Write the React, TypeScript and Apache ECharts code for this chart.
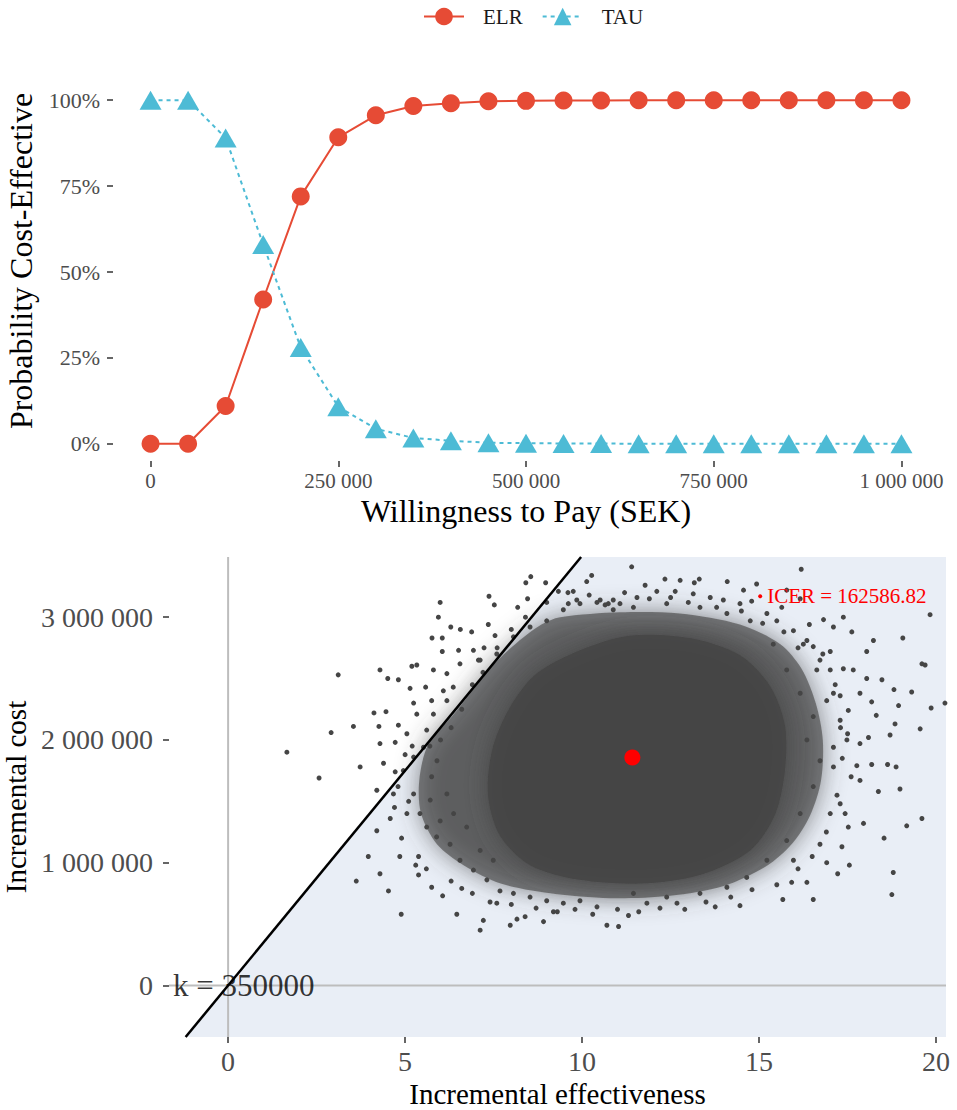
import React, { useEffect, useRef } from "react";
import * as echarts from "echarts";

// ---------- Top chart: CEAC ----------
const WTP = [0, 50000, 100000, 150000, 200000, 250000, 300000, 350000, 400000, 450000, 500000,
  550000, 600000, 650000, 700000, 750000, 800000, 850000, 900000, 950000, 1000000];
const ELR = [0, 0, 0.11, 0.42, 0.72, 0.892, 0.956, 0.983, 0.991, 0.997, 0.998,
  0.999, 0.999, 1, 1, 1, 1, 1, 1, 1, 1];
const TAU = [1, 1, 0.89, 0.58, 0.28, 0.108, 0.044, 0.017, 0.009, 0.003, 0.002,
  0.001, 0.001, 0, 0, 0, 0, 0, 0, 0, 0];
const WTP_TICKS = [0, 250000, 500000, 750000, 1000000];
const PROB_TICKS = [0, 0.25, 0.5, 0.75, 1];

// ---------- Bottom chart: CE plane ----------
const K = 350000;
const ICER = 162586.82;
const MEAN_EFFECT = 11.42;
const MEAN_COST = 1856742;
const ICER_LABEL_POS = [15.03, 3.17]; // effect, cost (millions)
const EFF_TICKS = [0, 5, 10, 15, 20];
const COST_TICKS = [0, 1000000, 2000000, 3000000];
const X_MIN = -1.67, X_MAX = 20.28, Y_MIN = -420000, Y_MAX = 3490000;

// simulated incremental (effect, cost in millions) samples, outer & mid region
const SAMPLES_LEFT = [
  [8.55,3.33],[8.41,3.28],[8.97,3.28],[7.37,3.17],[7.52,3.10],[5.99,3.12],[8.18,3.08],[8.46,3.15],[5.94,3.00],[6.29,2.92],
  [6.56,2.90],[6.88,2.88],[7.35,2.94],[5.76,2.83],[6.05,2.83],[6.05,2.72],[6.51,2.73],[6.93,2.73],[7.23,2.75],[7.07,2.65],
  [7.54,2.85],[4.29,2.57],[4.51,2.50],[4.81,2.49],[5.19,2.60],[5.33,2.61],[5.80,2.57],[6.18,2.54],[6.55,2.62],[3.11,2.53],
  [5.14,2.42],[5.58,2.43],[6.08,2.40],[6.36,2.43],[5.24,2.30],[5.75,2.32],[6.18,2.32],[4.12,2.22],[4.46,2.23],[4.81,2.12],
  [5.33,2.21],[5.80,2.21],[2.91,2.06],[3.54,2.11],[4.26,2.11],[4.29,1.97],[4.72,1.98],[5.05,2.05],[5.61,2.08],[1.66,1.90],
  [3.73,1.78],[4.39,1.81],[4.72,1.74],[5.24,1.86],[2.57,1.69],[4.20,1.59],[4.67,1.56],[5.05,1.40],[4.58,1.36],[4.20,1.26],
  [3.96,1.05],[4.29,0.91],[3.62,0.85],[4.53,0.77],[4.89,0.58],[5.38,1.05],[5.38,0.90],[5.75,0.80],[6.06,0.73],[6.46,0.58],
  [7.12,0.45],[6.60,0.79],[7.21,0.53],[7.59,0.67],[7.97,0.49],[8.16,0.54],[8.39,0.56],[8.91,0.52],[9.19,0.60],[10.70,0.49],
  [10.27,3.34],[10.13,3.29],[9.75,3.21],[9.61,3.11],[9.85,3.14],[9.33,3.21],[10.51,3.14],[10.74,3.11],
];
const SAMPLES_RIGHT = [
  [11.40,3.41],[16.19,3.39],[11.78,3.26],[12.34,3.31],[12.77,3.30],[13.17,3.28],[13.31,3.31],[14.10,3.29],[14.56,3.22],[14.93,3.27],
  [15.78,3.22],[14.79,3.13],[15.64,3.08],[16.16,3.15],[17.38,3.00],[16.82,2.98],[19.83,3.02],[16.42,2.94],[17.10,2.92],[17.62,2.88],
  [18.23,2.81],[19.06,2.83],[17.01,2.72],[18.04,2.72],[16.53,2.76],[17.66,2.57],[17.38,2.58],[19.60,2.62],[19.69,2.61],[18.04,2.50],
  [18.47,2.49],[18.81,2.41],[19.31,2.39],[20.25,2.30],[19.86,2.26],[17.29,2.36],[17.85,2.38],[18.18,2.31],[18.94,2.28],[18.31,2.20],
  [18.84,2.13],[19.55,2.09],[18.70,2.04],[17.85,1.97],[18.09,2.02],[17.76,1.79],[18.18,1.80],[18.63,1.80],[18.87,1.78],[18.98,1.60],
  [18.37,1.58],[17.85,1.67],[17.95,1.32],[19.17,1.30],[19.60,1.36],[18.53,1.20],[17.34,1.13],[18.79,0.92],[18.75,0.74],[17.55,0.98],
  [17.22,0.91],[16.53,0.70],[15.67,0.70],[16.35,0.84],[15.92,0.84],[16.91,1.00],[14.46,0.65],[13.76,0.64],[11.03,0.48],[11.31,0.57],
  [11.83,0.67],[12.68,0.67],[17.29,1.48],[17.52,1.29],[17.43,1.40],[17.10,1.94],[17.48,2.00],[17.29,2.16],[17.52,2.24],[17.10,2.38],
  [17.01,2.57],[16.72,2.65],[16.35,2.81],[15.97,2.89],[15.50,2.97],[15.22,3.03],[14.46,3.11],[13.99,3.14],[13.62,3.16],[13.14,3.19],
  [12.63,3.21],[12.11,3.21],[11.55,3.16],[11.07,3.11],[10.65,3.10],
];
const SAMPLES_MID = [
  [5.52,1.94],[5.90,1.83],[5.75,1.70],[6.18,1.56],[6.37,1.40],[5.99,1.34],[5.61,1.29],[5.89,1.21],[6.27,1.15],[6.55,1.02],
  [6.93,0.94],[7.31,0.86],[7.68,0.77],[8.06,0.75],[8.53,0.72],[9.00,0.69],[9.47,0.67],[9.94,0.69],[10.42,0.64],[6.74,1.29],
  [7.12,1.10],[7.49,1.02],[5.24,1.56],[5.42,1.40],[5.71,1.51],[7.12,2.65],[7.59,2.70],[8.06,2.84],[8.53,2.92],[9.00,2.97],
  [9.47,3.06],[9.94,3.11],[10.42,3.12],[10.88,3.14],
  [15.40,2.78],[15.78,2.57],[16.16,2.38],[16.53,2.19],[16.35,2.00],[16.72,1.83],[16.53,1.62],[16.16,1.40],[15.78,1.18],[15.22,1.02],
  [14.65,0.88],[14.09,0.80],[13.33,0.75],[12.39,0.72],[11.45,0.75],[16.91,2.32],[17.10,1.78],[17.01,1.40],[16.72,1.15],[15.97,1.02],
  [16.63,2.57],[16.25,2.78],[14.75,2.97],[14.09,3.03],[13.33,3.08],[12.39,3.11],[11.45,3.08],[10.88,3.06],
];
const SAMPLES_EDGE = [
  [4.9,1.2],[5.1,1.5],[4.95,1.75],[5.2,1.95],[4.85,1.05],[5.3,0.98],[5.6,0.95],[4.7,1.45],[4.8,1.62],[5.0,1.88],
  [6.3,0.85],[6.9,0.75],[7.4,0.68],[8.0,0.66],[8.7,0.63],[9.3,0.6],[9.8,0.62],[10.3,0.58],[11.0,0.62],[11.6,0.6],
  [12.2,0.63],[12.9,0.62],[13.5,0.68],[14.2,0.72],[14.8,0.78],[15.5,0.82],[16.1,0.95],[16.5,1.05],
  [16.9,1.25],[17.2,1.55],[17.35,1.85],[17.3,2.1],[17.15,2.45],[16.8,2.7],[17.6,1.7],[17.5,2.05],
  [9.0,3.12],[9.6,3.2],[10.2,3.18],[11.2,3.2],[11.9,3.15],[12.5,3.16],[13.0,3.12],[13.8,3.08],[14.5,3.05],[15.1,2.95],
  [15.7,2.88],[16.1,2.75],[6.6,2.25],[6.9,2.45],[7.2,2.55],[7.6,2.75],[8.0,2.9],[8.4,3.0],[6.3,2.1],[6.0,2.0],[5.7,1.95],
];
// outlines of the region where samples overlap completely (effect, cost in millions)
const DENSE_OUTER = [
  [9.38,3.0],[11.07,3.04],[12.77,3.03],[14.46,2.94],[15.6,2.78],[16.2,2.58],[16.6,2.30],[16.8,2.00],[16.75,1.67],[16.45,1.39],
  [15.95,1.16],[15.2,0.97],[14.0,0.81],[12.49,0.73],[10.79,0.71],[9.10,0.75],[7.7,0.83],[6.65,0.98],[5.9,1.15],[5.45,1.40],
  [5.4,1.67],[5.65,1.96],[6.35,2.20],[6.9,2.40],[7.45,2.60],[8.15,2.79],[8.85,2.94],
];
const DENSE_CORE = [
  [9.94,2.73],[11.36,2.85],[13.05,2.83],[14.46,2.69],[15.31,2.44],[15.73,2.12],[15.73,1.75],[15.45,1.39],[14.75,1.10],[13.33,0.90],
  [11.64,0.83],[9.94,0.86],[8.53,0.98],[7.68,1.22],[7.34,1.55],[7.46,1.92],[7.91,2.24],[8.67,2.53],
];

const FONT = '"Liberation Serif", "DejaVu Serif", serif';
const RED = "#E64B35";
const BLUE = "#4DBBD5";
const DOT = "#454545";

const spaced = (v: number) => String(Math.round(v)).replace(/\B(?=(\d{3})+(?!\d))/g, " ");
const toCost = (arr: number[][]) => arr.map((p) => [p[0], p[1] * 1e6]);

export default function App() {
  const ref = useRef<HTMLDivElement>(null);
  useEffect(() => {
    document.body.style.margin = "0";
    const chart = echarts.init(ref.current!, undefined, { renderer: "svg" });

    const polygonSeries = (poly: number[][], fill: string, opacity: number, z: number, blur: number) => ({
      type: "custom",
      xAxisIndex: 1,
      yAxisIndex: 1,
      silent: true,
      clip: true,
      z,
      data: [[0, 0]],
      renderItem: (_p: any, api: any) => ({
        type: "polygon",
        shape: { points: poly.map((pt) => api.coord(pt)), smooth: blur ? 0.3 : 0 },
        style: blur
          ? { fill, opacity, shadowBlur: blur, shadowColor: fill }
          : { fill, opacity },
      }),
    });

    const shade = [[Y_MIN / K, Y_MIN], [X_MAX, Y_MIN], [X_MAX, Y_MAX], [Y_MAX / K, Y_MAX]];
    const samples = toCost([...SAMPLES_LEFT, ...SAMPLES_RIGHT, ...SAMPLES_MID, ...SAMPLES_EDGE]);

    const axisTickStyle = { show: true, length: 6, lineStyle: { color: "#333", width: 1.5 } };

    chart.setOption({
      animation: false,
      textStyle: { fontFamily: FONT },
      legend: {
        data: ["ELR", "TAU"],
        top: 1,
        left: 418,
        itemWidth: 40,
        itemHeight: 22,
        itemGap: 19,
        textStyle: { fontFamily: FONT, fontSize: 21, color: "#1a1a1a", padding: [0, 0, 0, 14] },
      },
      grid: [
        { left: 113, top: 83, width: 826, height: 378, outerBoundsMode: "none", containLabel: false },
        { left: 169, top: 557, width: 777, height: 480, outerBoundsMode: "none", containLabel: false },
      ],
      xAxis: [
        {
          type: "value", gridIndex: 0, min: -50000, max: 1050000,
          name: "Willingness to Pay (SEK)", nameLocation: "middle", nameGap: 34,
          nameTextStyle: { fontFamily: FONT, fontSize: 32, color: "#000" },
          axisLine: { show: false, onZero: false },
          axisTick: { ...axisTickStyle, customValues: WTP_TICKS },
          axisLabel: { customValues: WTP_TICKS, formatter: (v: number) => spaced(v), fontFamily: FONT, fontSize: 21, color: "#4d4d4d", margin: 9 },
          splitLine: { show: false },
        },
        {
          type: "value", gridIndex: 1, min: X_MIN, max: X_MAX,
          name: "Incremental effectiveness", nameLocation: "middle", nameGap: 42,
          nameTextStyle: { fontFamily: FONT, fontSize: 29, color: "#000" },
          axisLine: { show: false, onZero: false },
          axisTick: { ...axisTickStyle, customValues: EFF_TICKS },
          axisLabel: { customValues: EFF_TICKS, formatter: (v: number) => String(v), fontFamily: FONT, fontSize: 28, color: "#4d4d4d", margin: 10 },
          splitLine: { show: false },
        },
      ],
      yAxis: [
        {
          type: "value", gridIndex: 0, min: -0.05, max: 1.05,
          name: "Probability Cost-Effective", nameLocation: "middle", nameGap: 76, nameRotate: 90,
          nameTextStyle: { fontFamily: FONT, fontSize: 32, color: "#000", padding: [0, 0, 0, 22] },
          axisLine: { show: false, onZero: false },
          axisTick: { ...axisTickStyle, customValues: PROB_TICKS },
          axisLabel: { customValues: PROB_TICKS, formatter: (v: number) => Math.round(v * 100) + "%", fontFamily: FONT, fontSize: 22, color: "#4d4d4d", margin: 13 },
          splitLine: { show: false },
        },
        {
          type: "value", gridIndex: 1, min: Y_MIN, max: Y_MAX,
          name: "Incremental cost", nameLocation: "middle", nameGap: 133, nameRotate: 90,
          nameTextStyle: { fontFamily: FONT, fontSize: 29, color: "#000" },
          axisLine: { show: false, onZero: false },
          axisTick: { ...axisTickStyle, customValues: COST_TICKS },
          axisLabel: { customValues: COST_TICKS, formatter: (v: number) => spaced(v), fontFamily: FONT, fontSize: 28, color: "#4d4d4d", margin: 16 },
          splitLine: { show: false },
        },
      ],
      series: [
        {
          name: "ELR", type: "line", xAxisIndex: 0, yAxisIndex: 0,
          data: WTP.map((w, i) => [w, ELR[i]]),
          symbol: "circle", symbolSize: 18,
          lineStyle: { color: RED, width: 2 },
          itemStyle: { color: RED },
          z: 3,
        },
        {
          name: "TAU", type: "line", xAxisIndex: 0, yAxisIndex: 0,
          data: WTP.map((w, i) => [w, TAU[i]]),
          symbol: "triangle", symbolSize: [22, 19],
          lineStyle: { color: BLUE, width: 2, type: [4, 4] },
          itemStyle: { color: BLUE },
          z: 3,
        },
        polygonSeries(shade, "#e9eef6", 1, 1, 0),
        {
          type: "line", xAxisIndex: 1, yAxisIndex: 1, silent: true, symbol: "none", z: 2,
          data: [[0, Y_MIN], [0, Y_MAX]],
          lineStyle: { color: "#bdbdbd", width: 2 },
        },
        {
          type: "line", xAxisIndex: 1, yAxisIndex: 1, silent: true, symbol: "none", z: 2,
          data: [[X_MIN, 0], [X_MAX, 0]],
          lineStyle: { color: "#bdbdbd", width: 2 },
        },
        polygonSeries(toCost(DENSE_OUTER), DOT, 0.62, 3, 24),
        polygonSeries(toCost(DENSE_CORE), DOT, 0.92, 3, 22),
        {
          type: "scatter", xAxisIndex: 1, yAxisIndex: 1, silent: true, z: 4,
          data: samples, symbolSize: 5, itemStyle: { color: DOT, opacity: 1 },
        },
        {
          type: "line", xAxisIndex: 1, yAxisIndex: 1, silent: true, symbol: "none", z: 5,
          data: [[Y_MIN / K, Y_MIN], [Y_MAX / K, Y_MAX]],
          lineStyle: { color: "#000", width: 2.5 },
        },
        {
          type: "scatter", xAxisIndex: 1, yAxisIndex: 1, silent: true, z: 6,
          data: [[MEAN_EFFECT, MEAN_COST]], symbolSize: 16, itemStyle: { color: "#ff0000", opacity: 1 },
        },
        {
          type: "scatter", xAxisIndex: 1, yAxisIndex: 1, silent: true, z: 6,
          data: [[ICER_LABEL_POS[0], ICER_LABEL_POS[1] * 1e6]], symbolSize: 4, itemStyle: { color: "#ff0000", opacity: 1 },
          label: {
            show: true, position: "right", distance: 5,
            formatter: () => "ICER = " + ICER.toFixed(2),
            fontFamily: FONT, fontSize: 21, color: "#ff0000",
          },
        },
        {
          type: "scatter", xAxisIndex: 1, yAxisIndex: 1, silent: true, z: 7,
          data: [[X_MIN, 0]], symbolSize: 0,
          label: {
            show: true, position: "right", distance: 4,
            formatter: () => "k = " + K,
            fontFamily: FONT, fontSize: 31, color: "#000",
          },
        },
      ],
    });
    return () => chart.dispose();
  }, []);
  return <div ref={ref} style={{ width: 957, height: 1110 }} />;
}
